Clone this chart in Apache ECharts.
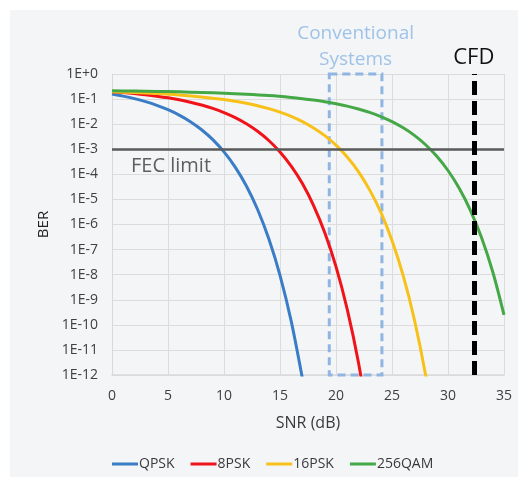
<!DOCTYPE html>
<html>
<head>
<meta charset="utf-8">
<script src="https://cdn.jsdelivr.net/npm/echarts@6/dist/echarts.min.js"></script>
<style>
  html, body { margin: 0; padding: 0; background: #ffffff; }
  #main { width: 518px; height: 477px; }
</style>
</head>
<body>
<div id="main"></div>
<script>
// tick labels
var xTicks = [0, 5, 10, 15, 20, 25, 30, 35];
var yTickLabels = ['1E+0', '1E-1', '1E-2', '1E-3', '1E-4', '1E-5', '1E-6',
  '1E-7', '1E-8', '1E-9', '1E-10', '1E-11', '1E-12'];

// QPSK
var snrQpsk = [0, 1, 2, 3, 4, 5, 6, 7, 8, 9, 10, 11, 12, 13, 14, 15, 16, 17];
var berQpsk = [0.159, 0.131, 0.104, 0.0789, 0.0565, 0.0377, 0.0230, 0.0126, 0.0060,
  0.00242, 7.83e-4, 1.94e-4, 3.43e-5, 3.97e-6, 2.69e-7, 9.4e-9, 1.4e-10, 7.3e-13];

// 8PSK
var snr8psk = [0, 1, 2, 3, 4, 5, 6, 7, 8, 9, 10, 11, 12, 13, 14, 15, 16, 17, 18, 19, 20, 21, 22, 23];
var ber8psk = [0.196, 0.181, 0.165, 0.148, 0.130, 0.112, 0.0934, 0.0752, 0.0580, 0.0424,
  0.0290, 0.0183, 0.0104, 0.0052, 0.00223, 7.8e-4, 2.13e-4, 4.3e-5, 5.7e-6, 4.7e-7,
  2.1e-8, 4.2e-10, 3.2e-12, 7e-15];

// 16PSK
var snr16psk = [0, 2, 4, 6, 8, 10, 11, 12, 13, 14, 15, 16, 17, 18, 19, 20, 21, 22, 23, 24, 25, 26, 27, 28, 29];
var ber16psk = [0.196, 0.182, 0.166, 0.146, 0.122, 0.0958, 0.0819, 0.0680, 0.0545, 0.0417,
  0.0302, 0.0204, 0.0127, 0.0071, 0.00348, 0.00145, 4.9e-4, 1.29e-4, 2.4e-5, 3.1e-6,
  2.3e-7, 9.2e-9, 1.6e-10, 1.0e-12, 1.9e-15];

// 256QAM
var snr256qam = [0, 2, 4, 6, 8, 10, 12, 14, 16, 17, 18, 19, 20, 21, 22, 23, 24, 25, 26,
  27, 28, 29, 30, 31, 32, 33, 34, 35];
var ber256qam = [0.214, 0.209, 0.2025, 0.194, 0.184, 0.1715, 0.156, 0.1375, 0.1158, 0.1038,
  0.0912, 0.0782, 0.0652, 0.0524, 0.0403, 0.0294, 0.0201, 0.0126, 0.00714, 0.00356,
  0.00151, 5.25e-4, 1.42e-4, 2.78e-5, 3.69e-6, 2.96e-7, 1.28e-8, 2.5e-10];

// annotations
var fecLimit = 1e-3;
var cfdSnr = 32.3;
var convBox = [19.4, 24.1];

function pairs(xs, ys) {
  return xs.map(function (x, i) { return [x, ys[i]]; });
}

var chart = echarts.init(document.getElementById('main'));
var font = '"Open Sans", "Noto Sans", sans-serif';

function curve(name, color, xs, ys) {
  return {
    name: name,
    type: 'line',
    data: pairs(xs, ys),
    symbol: 'none',
    smooth: 0.3,
    clip: true,
    lineStyle: { color: color, width: 3 },
    itemStyle: { color: color }
  };
}

var series = [
  curve('QPSK', '#3a7dc6', snrQpsk, berQpsk),
  curve('8PSK', '#f0141a', snr8psk, ber8psk),
  curve('16PSK', '#f8c11a', snr16psk, ber16psk),
  curve('256QAM', '#45a847', snr256qam, ber256qam)
];

// FEC limit and CFD lines, conventional box
series[0].markLine = {
  silent: true,
  symbol: ['none', 'none'],
  animation: false,
  data: [
    [
      { coord: [0, fecLimit] },
      { coord: [35, fecLimit] }
    ],
    {
      xAxis: cfdSnr,
      lineStyle: { color: '#000000', width: 5, type: [14, 6] },
      label: {
        show: true, position: 'end', formatter: 'CFD',
        color: '#111111', fontSize: 22, fontFamily: font, distance: 5
      }
    }
  ]
};
series[0].markLine.data[0][0].lineStyle = { color: '#5a5a5a', width: 2.5, type: 'solid' };
series[0].markLine.data[0][0].label = {
  show: true, position: 'insideStartBottom', formatter: 'FEC limit',
  color: '#5f5f5f', fontSize: 20, fontFamily: font, distance: 7,
  padding: [0, 0, 0, 12]
};

series[0].markArea = {
  silent: true,
  animation: false,
  itemStyle: {
    color: 'rgba(0,0,0,0)',
    borderColor: '#8fb5e3',
    borderWidth: 3,
    borderType: [8, 5]
  },
  label: {
    show: true, position: 'top', distance: 0,
    formatter: 'Conventional\nSystems',
    color: '#9fc3e8', fontSize: 19, lineHeight: 26, fontFamily: font, align: 'center'
  },
  data: [[{ coord: [convBox[0], 1.15] }, { coord: [convBox[1], 1e-12] }]]
};

var option = {
  animation: false,
  backgroundColor: '#ffffff',
  textStyle: { fontFamily: font },
  graphic: [{
    type: 'rect', z: -10, silent: true,
    shape: { x: 10, y: 10, width: 508, height: 467 },
    style: { fill: '#f4f5f7' }
  }],
  grid: { left: 112, right: 14, top: 74, bottom: 102, containLabel: false },
  legend: {
    data: ['QPSK', '8PSK', '16PSK', '256QAM'],
    left: 107, top: 452,
    icon: 'rect', itemWidth: 26, itemHeight: 3, itemGap: 16,
    textStyle: { color: '#3a3a3a', fontSize: 14, fontFamily: font, padding: [0, 0, 0, -4] }
  },
  xAxis: {
    type: 'value', min: 0, max: 35, interval: 5,
    name: 'SNR (dB)', nameLocation: 'middle', nameGap: 40,
    nameTextStyle: { color: '#3a3a3a', fontSize: 16, fontFamily: font },
    axisLine: { show: true, lineStyle: { color: '#d9d9d9', width: 1.5 } },
    axisTick: { show: false },
    axisLabel: {
      color: '#404040', fontSize: 14, margin: 14, fontFamily: font,
      formatter: function (v) { return xTicks.indexOf(v) >= 0 ? String(v) : ''; }
    },
    splitLine: { show: true, lineStyle: { color: '#dcdcdc', width: 1 } }
  },
  yAxis: {
    type: 'log', logBase: 10, min: 1e-12, max: 1, interval: 1,
    name: 'BER', nameLocation: 'middle', nameGap: 54, nameRotate: 90,
    nameTextStyle: { color: '#222222', fontSize: 15, fontFamily: font },
    axisLine: { show: true, lineStyle: { color: '#d9d9d9', width: 1 } },
    axisTick: { show: false },
    minorTick: { show: false },
    axisLabel: {
      color: '#404040', fontSize: 14, margin: 14, fontFamily: font,
      formatter: function (v) {
        var k = Math.round(-Math.log10(v));
        return yTickLabels[k] || '';
      }
    },
    splitLine: { show: true, lineStyle: { color: '#dcdcdc', width: 1 } }
  },
  series: series
};

chart.setOption(option);
</script>
</body>
</html>
